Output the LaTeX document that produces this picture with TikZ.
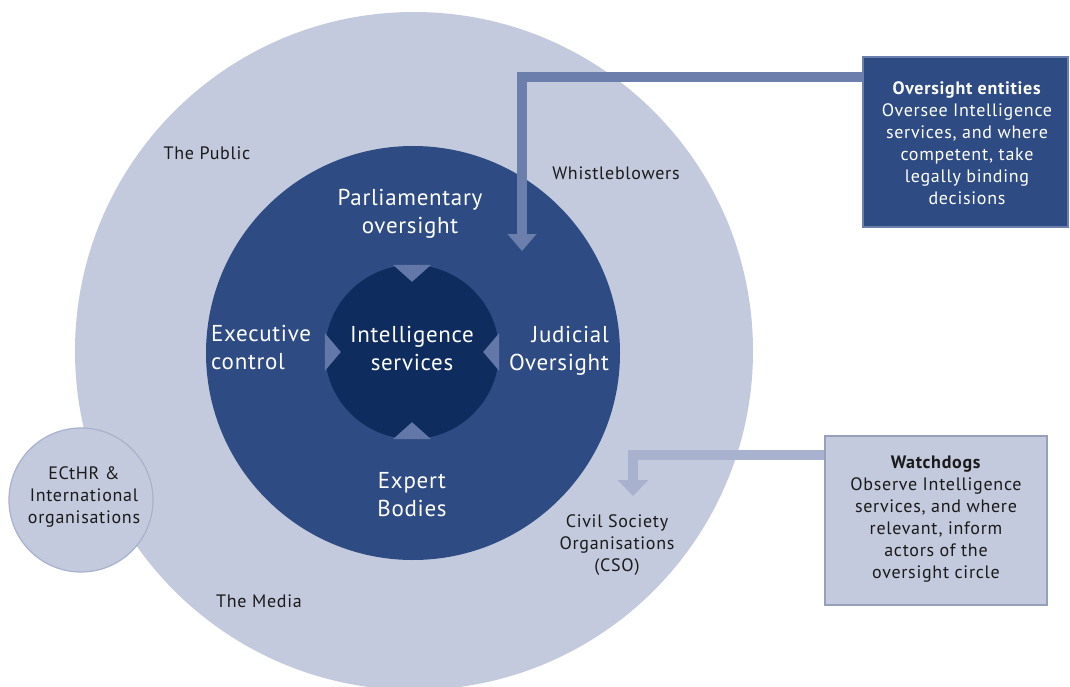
\documentclass[tikz,border=0pt]{standalone}
\usepackage{fontspec}
\setmainfont{PT Sans}
\newfontfamily\lblfont[LetterSpace=4.0]{PT Sans}
\newfontfamily\bigfont[LetterSpace=3.0]{PT Sans}
\usetikzlibrary{arrows.meta}
\definecolor{lightc}{HTML}{C4CADD}
\definecolor{ringc}{HTML}{2E4C83}
\definecolor{corec}{HTML}{0E2C5D}
\definecolor{notchc}{HTML}{6378A8}
\definecolor{arrowdark}{HTML}{6C7EAB}
\definecolor{arrowlight}{HTML}{A8B2CF}
\definecolor{txtc}{HTML}{1A1A1A}
\tikzset{
  disc/.style={circle, inner sep=0pt, draw=none},
  biglabel/.style={text=white, font=\bigfont\fontsize{23}{28}\selectfont, inner sep=0pt},
  smalllabel/.style={text=txtc, font=\lblfont\fontsize{18}{22}\selectfont, inner sep=0pt, align=center},
  notch/.style={fill=notchc, draw=none},
  connector/.style={line width=10pt, line join=miter},
  ovsbox/.style={fill=ringc, draw=arrowdark, line width=1.5pt, minimum width=205pt, minimum height=170pt, inner sep=0pt},
  wdbox/.style={fill=lightc, draw=arrowlight!90!black, line width=2pt, minimum width=222pt, minimum height=169pt, inner sep=0pt},
}
\begin{document}
\begin{tikzpicture}[x=1pt,y=-1pt]
\useasboundingbox (0,0) rectangle (1070,687);
\fill[white] (0,0) rectangle (1070,687);
% circles
\node[disc, fill=lightc, minimum size=678pt] (public) at (414,351) {};
\node[disc, fill=ringc, minimum size=414pt] (ring) at (413,353) {};
\node[disc, fill=corec, minimum size=174pt] (core) at (412,352) {};
% notches
\fill[notch] ([xshift=-19pt]core.north) -- ([xshift=19pt]core.north) -- ([yshift=-17pt]core.north) -- cycle;
\fill[notch] ([xshift=-19pt]core.south) -- ([xshift=19pt]core.south) -- ([yshift=17pt]core.south) -- cycle;
\fill[notch] ([yshift=-19pt]core.west) -- ([yshift=19pt]core.west) -- ([xshift=16pt]core.west) -- cycle;
\fill[notch] ([yshift=-19pt]core.east) -- ([yshift=19pt]core.east) -- ([xshift=-16pt]core.east) -- cycle;
% ECtHR circle
\node[disc, fill=lightc, draw=arrowdark!60, line width=1.2pt, minimum size=144pt] (echr) at (81,500) {};
\node[smalllabel] (echrtxt) at (84,497) {ECtHR \&\\International\\organisations};
% connectors
\coordinate (wbtip) at (522,251);
\coordinate (csotip) at (633,496);
\node[ovsbox] (ovs) at (965.5,142) {};
\node[wdbox] (wd) at (936,520.5) {};
\draw[connector, arrowdark, -{Triangle[width=28pt,length=17pt]}] ([yshift=-21pt]ovs.north west) -| (wbtip);
\draw[connector, arrowlight, -{Triangle[width=30pt,length=16pt]}] ([yshift=-20pt]wd.north west) -| (csotip);
% boxes redrawn over connector starts
\node[ovsbox] (ovs2) at (ovs) {};
\node[text=white, font=\lblfont\fontsize{18}{22}\selectfont, align=center, inner sep=0pt] (ovstxt) at (967,143) {\textbf{Oversight entities}\\Oversee Intelligence\\services, and where\\competent, take\\legally binding\\decisions};
\node[wdbox] (wd2) at (wd) {};
\node[smalllabel] (wdtxt) at (936,519) {\textbf{Watchdogs}\\Observe Intelligence\\services, and where\\relevant, inform\\actors of the\\oversight circle};
% ring labels
\node[biglabel, align=center] (parl) at (410,214) {Parliamentary\\oversight};
\node[biglabel, align=left, anchor=west] (exec) at (211,347) {Executive\\control};
\node[biglabel, align=center] (intel) at (412,348) {Intelligence\\services};
\node[biglabel, align=right, anchor=east] (jud) at (609,351) {Judicial\\Oversight};
\node[biglabel, align=center] (expert) at (412,495) {Expert\\Bodies};
% outer labels
\node[smalllabel] (pub) at (207,153) {The Public};
\node[smalllabel] (whist) at (616,173) {Whistleblowers};
\node[smalllabel] (media) at (259,601) {The Media};
\node[smalllabel] (cso) at (617,545) {Civil Society\\Organisations\\(CSO)};
\end{tikzpicture}
\end{document}
